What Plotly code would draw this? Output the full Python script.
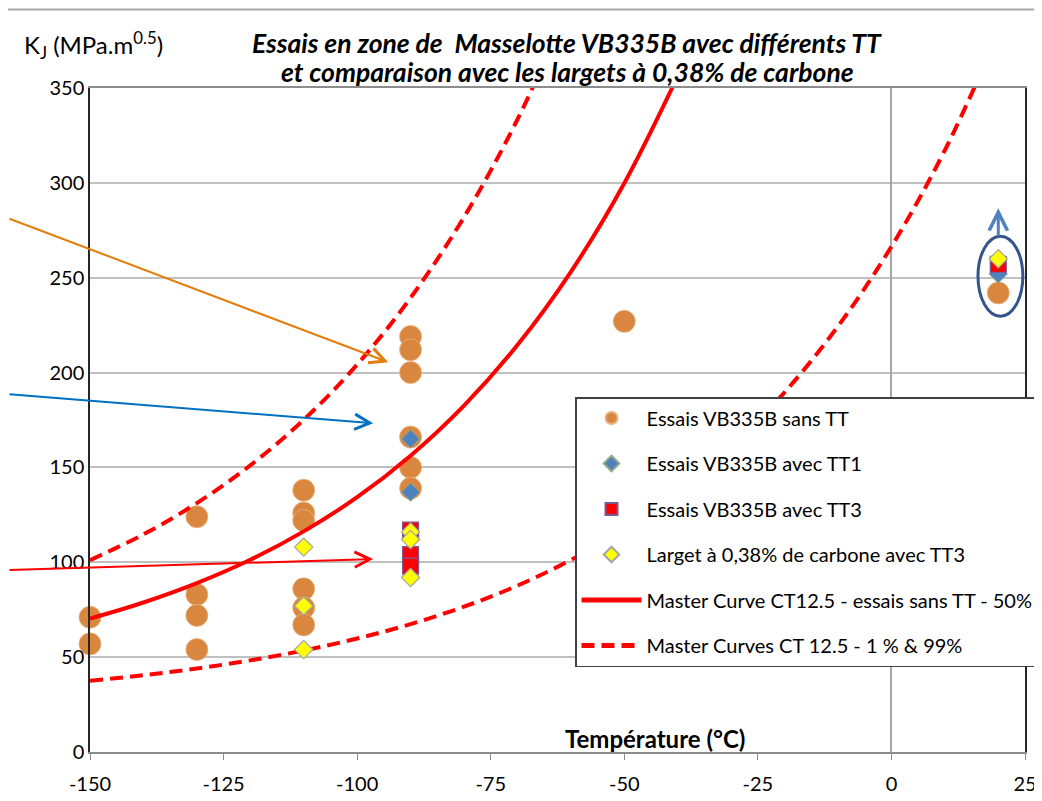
import plotly.graph_objects as go

# ---------------- data ----------------
sans_tt_x = [-150, -150, -130, -130, -130, -130, -110, -110, -110, -110, -110, -110,
             -90, -90, -90, -90, -90, -90, -50, 20]
sans_tt_y = [71, 57, 124, 83, 72, 54, 138, 126, 122, 86, 76, 67,
             219, 212, 200, 166, 150, 139, 227, 242]

tt1_x = [-90, -90, 20]
tt1_y = [165, 137, 252]

tt3_x = [-90, -90, -90, 20]
tt3_y = [117, 104, 98, 257]

larget_x = [-110, -110, -110, -90, -90, -90, 20]
larget_y = [108, 77, 54, 116, 112, 92, 260]

mc_med_t = [-150, -140, -130, -120, -110, -100, -90, -80, -70, -60, -50, -40]
mc_med_k = [70.3, 78.8, 89.0, 101.3, 116.3, 134.3, 156.2, 182.6, 214.5, 253.1, 299.8, 356.2]

mc_99_t = [-150, -140, -130, -120, -110, -100, -90, -80, -70, -60]
mc_99_k = [101.1, 114.7, 131.2, 151.1, 175.1, 204.2, 239.4, 281.9, 333.4, 395.6]

mc_01_t = [-150, -140, -130, -120, -110, -100, -90, -80, -70, -60, -50, -40, -30,
           -20, -10, 0, 10, 20]
mc_01_k = [37.5, 40.5, 44.0, 48.3, 53.5, 59.8, 67.4, 76.6, 87.7, 101.2, 117.4, 137.1,
           160.9, 189.6, 224.4, 266.4, 317.2, 378.7]

x_ticks = [-150, -125, -100, -75, -50, -25, 0, 25]
y_ticks = [0, 50, 100, 150, 200, 250, 300, 350]

names = ["Essais VB335B sans TT", "Essais VB335B avec TT1", "Essais VB335B avec TT3",
         "Larget à 0,38% de carbone avec TT3",
         "Master Curve CT12.5 - essais sans TT - 50%",
         "Master Curves CT 12.5 - 1 % & 99%"]

title_lines = ["Essais en zone de  Masselotte VB335B avec différents TT",
               "et comparaison avec les largets à 0,38% de carbone"]

FONT = "Lato"
# page body has an 8px margin: figure is sized/offset so the plot lands where the reference has it
OFF = 8
W, H = 1042 - OFF, 801 - OFF
PL, PR, PT, PB = 90, 1025, 88, 752          # plot area in reference pixels
ML, MT = PL - OFF, PT - OFF
MR = W - (PR - OFF)
MB = H - (PB - OFF)


def px(X):
    return (X - PL) / (PR - PL)


def py(Y):
    return (PB - Y) / (PB - PT)


fig = go.Figure()

fig.add_trace(go.Scatter(x=sans_tt_x, y=sans_tt_y, mode="markers", name=names[0],
                         legendgroup="g1", legendrank=1, cliponaxis=False,
                         marker=dict(symbol="circle", size=22, color="#D9863E",
                                     line=dict(color="#E9B27F", width=0.8))))
fig.add_trace(go.Scatter(x=tt1_x, y=tt1_y, mode="markers", name=names[1],
                         legendgroup="g2", legendrank=2, cliponaxis=False,
                         marker=dict(symbol="diamond", size=14, color="#4F81BD",
                                     line=dict(color="#8FA88A", width=1))))
fig.add_trace(go.Scatter(x=tt3_x, y=tt3_y, mode="markers", name=names[2],
                         legendgroup="g3", legendrank=3, cliponaxis=False,
                         marker=dict(symbol="square", size=16, color="#FF0000",
                                     line=dict(color="#7A5A95", width=1.2))))
fig.add_trace(go.Scatter(x=mc_med_t, y=mc_med_k, mode="lines", name=names[4],
                         legendgroup="g5", legendrank=5,
                         line=dict(color="#FF0000", width=4, shape="spline")))
fig.add_trace(go.Scatter(x=mc_99_t, y=mc_99_k, mode="lines", name=names[5],
                         legendgroup="g6", legendrank=6,
                         line=dict(color="#FF0000", width=4, dash="13px,7px", shape="spline")))
fig.add_trace(go.Scatter(x=mc_01_t, y=mc_01_k, mode="lines", name=names[5],
                         legendgroup="g6", showlegend=False,
                         line=dict(color="#FF0000", width=4, dash="13px,7px", shape="spline")))
fig.add_trace(go.Scatter(x=larget_x, y=larget_y, mode="markers", name=names[3],
                         legendgroup="g4", legendrank=4, cliponaxis=False,
                         marker=dict(symbol="diamond", size=14, color="#FFFF00",
                                     line=dict(color="#A5A5A5", width=1.2))))

# ellipse around the +20 °C points
fig.add_shape(type="circle", xref="x", yref="y", x0=16.2, x1=24.6, y0=229.7, y1=271.9,
              line=dict(color="#34558B", width=3))
# top border line of the chart area
fig.add_shape(type="line", xref="paper", yref="paper",
              x0=px(0), x1=px(1042), y0=py(9.5), y1=py(9.5),
              line=dict(color="#A6A6A6", width=2))

annotations = []


def arrow(x, y, ax, ay, color, width=2, size=1.5):
    return dict(x=x, y=y, xref="x", yref="y", ax=ax, ay=ay, axref="pixel", ayref="pixel",
                text="", showarrow=True, arrowhead=5, arrowsize=size, arrowwidth=width,
                arrowcolor=color, standoff=0)


annotations.append(arrow(-94.2, 205.5, -388, -144, "#E37D0A"))
annotations.append(arrow(-97.0, 173.3, -373, -29, "#0070C0"))
annotations.append(arrow(-97.0, 101.7, -373, 11, "#FF0000"))
annotations.append(arrow(20, 286.6, 0, 29, "#4F81BD", width=3, size=1.2))

# title (two lines)
for line, yy in zip(title_lines, [43, 72]):
    annotations.append(dict(
        text=line, xref="paper", yref="paper", x=px(567), y=py(yy),
        xanchor="center", yanchor="middle", showarrow=False,
        font=dict(family=FONT, size=26.5, color="#000000", style="italic", weight="bold")))
# y-axis title
annotations.append(dict(
    text="K<sub>J</sub> (MPa.m<sup>0.5</sup>)", xref="paper", yref="paper",
    x=px(22), y=py(45), xanchor="left", yanchor="middle", showarrow=False,
    font=dict(family=FONT, size=24, color="#000000")))
# x-axis title
annotations.append(dict(
    text="<b>Température (°C)</b>", xref="paper", yref="paper",
    x=px(655), y=py(738), xanchor="center", yanchor="middle", showarrow=False,
    font=dict(family=FONT, size=24, color="#000000")))

fig.update_layout(
    width=W, height=H,
    margin=dict(l=ML, r=MR, t=MT, b=MB, autoexpand=False),
    paper_bgcolor="white", plot_bgcolor="white",
    font=dict(family=FONT, size=18, color="#000000"),
    showlegend=True,
    legend=dict(x=px(575), y=py(397), xanchor="left", yanchor="top",
                bgcolor="white", bordercolor="#404040", borderwidth=1.5,
                font=dict(family=FONT, size=20, color="#000000"),
                itemsizing="constant", traceorder="grouped", tracegroupgap=16.5,
                itemwidth=60),
    annotations=annotations,
    xaxis=dict(range=[-150, 25], tickvals=x_ticks, ticktext=[str(v) for v in x_ticks],
               showgrid=False, zeroline=True, zerolinecolor="#A6A6A6", zerolinewidth=1.5,
               showline=True, linecolor="#8C8C8C", linewidth=2, mirror=True,
               ticks="outside", ticklen=6, tickcolor="#8C8C8C", ticklabelstandoff=7,
               tickfont=dict(family=FONT, size=20, color="#000000")),
    yaxis=dict(range=[0, 350], tickvals=y_ticks, ticktext=[str(v) for v in y_ticks],
               showgrid=True, gridcolor="#C0C0C0", gridwidth=1.5, zeroline=False,
               showline=True, linecolor="#262626", linewidth=1.5, mirror=True,
               ticks="", tickfont=dict(family=FONT, size=20, color="#000000")),
)

fig.write_html("out.html")
